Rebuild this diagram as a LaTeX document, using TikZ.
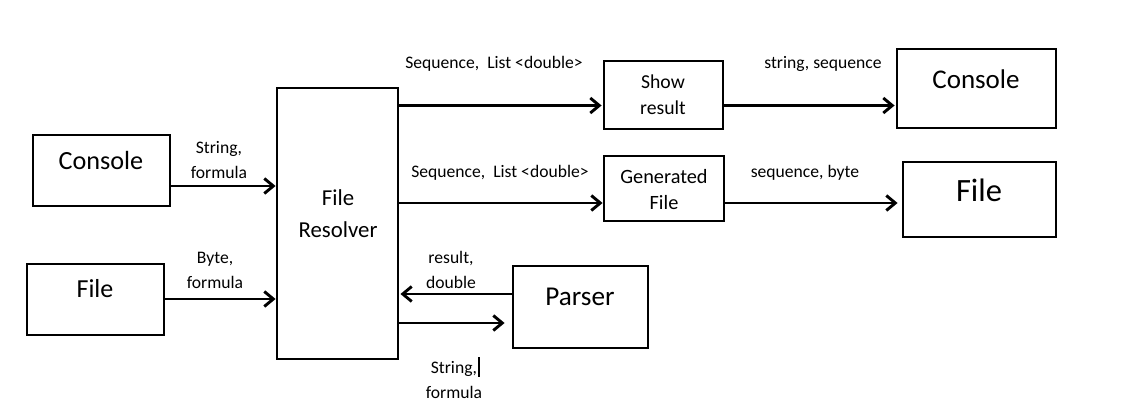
\documentclass[tikz,border=0pt]{standalone}
\usepackage{fontspec}
\setmainfont{Carlito}
\usetikzlibrary{arrows.meta}
\newcommand{\fsz}[2]{\fontsize{#1}{#2}\selectfont}
\tikzset{
  box/.style={draw, line width=2.9pt, inner sep=0pt},
  boxtext/.style={inner sep=0pt, align=center},
  lbl/.style={inner sep=0pt, align=center, font=\fsz{17.6}{25}},
  arr/.style={line width=2.9pt, -{Straight Barb[length=9pt, width=15pt, line width=2.9pt]}},
}
\begin{document}
\begin{tikzpicture}[x=1pt, y=-1pt]
\useasboundingbox[fill=white] (0,0) rectangle (1122,420);
% boxes
\node[box, minimum width=137, minimum height=71] (con1) at (101.5,170.5) {};
\node[box, minimum width=137, minimum height=71] (fil1) at (95.5,299.5) {};
\node[box, minimum width=121, minimum height=271] (res) at (337.5,223.5) {};
\node[box, minimum width=119, minimum height=68] (show) at (663.5,95) {};
\node[box, minimum width=120, minimum height=65] (gen) at (664,188.5) {};
\node[box, minimum width=135, minimum height=82] (par) at (580.5,307) {};
\node[box, minimum width=159, minimum height=79] (con2) at (976.5,88.5) {};
\node[box, minimum width=153, minimum height=75] (fil2) at (979.5,199.5) {};
% box texts
\node[boxtext, font=\fsz{26.2}{30}] (con1t) at (101,160) {Console};
\node[boxtext, font=\fsz{26}{30}] (fil1t) at (95,289) {File};
\node[boxtext, font=\fsz{22.8}{32}] (rest) at (338,214) {File\\Resolver};
\node[boxtext, font=\fsz{19.7}{26}] (showt) at (663,95) {Show\\result};
\node[boxtext, font=\fsz{20.3}{26}] (gent) at (664,190) {Generated\\File};
\node[boxtext, font=\fsz{27.2}{30}] (part) at (580,297) {Parser};
\node[boxtext, font=\fsz{27}{30}] (con2t) at (976,79) {Console};
\node[boxtext, font=\fsz{32.5}{36}] (fil2t) at (979,190) {File};
% connectors
\draw[arr] (con1.east |- 0,186) -- (res.west |- 0,186);
\draw[arr] (fil1.east |- 0,299) -- (res.west |- 0,299);
\draw[arr] (res.east |- 0,105.5) -- ([xshift=-1pt]show.west |- 0,105.5);
\draw[arr] (show.east |- 0,105.5) -- ([xshift=-1pt]con2.west |- 0,105.5);
\draw[arr] (res.east |- 0,203) -- (gen.west |- 0,203);
\draw[arr] (gen.east |- 0,203) -- ([xshift=-4pt]fil2.west |- 0,203);
\draw[arr] (par.west |- 0,294) -- ([xshift=1pt]res.east |- 0,294);
\draw[arr] (res.east |- 0,323) -- ([xshift=-7pt]par.west |- 0,323);
% labels
\node[lbl] (l1) at (219,160) {String,\\formula};
\node[lbl] (l2) at (215,270) {Byte,\\formula};
\node[lbl] (l3) at (494,64) {Sequence,\ \ List <double>};
\node[lbl] (l4) at (823,64) {string, sequence};
\node[lbl] (l5) at (500,173) {Sequence,\ \ List <double>};
\node[lbl] (l6) at (805,173) {sequence,\ byte};
\node[lbl] (l7) at (451,270) {result,\\double};
\node[lbl] (l8) at (454,380) {String,\\formula};
\draw[line width=1.3pt] (479,357) -- (479,377);
\end{tikzpicture}
\end{document}
